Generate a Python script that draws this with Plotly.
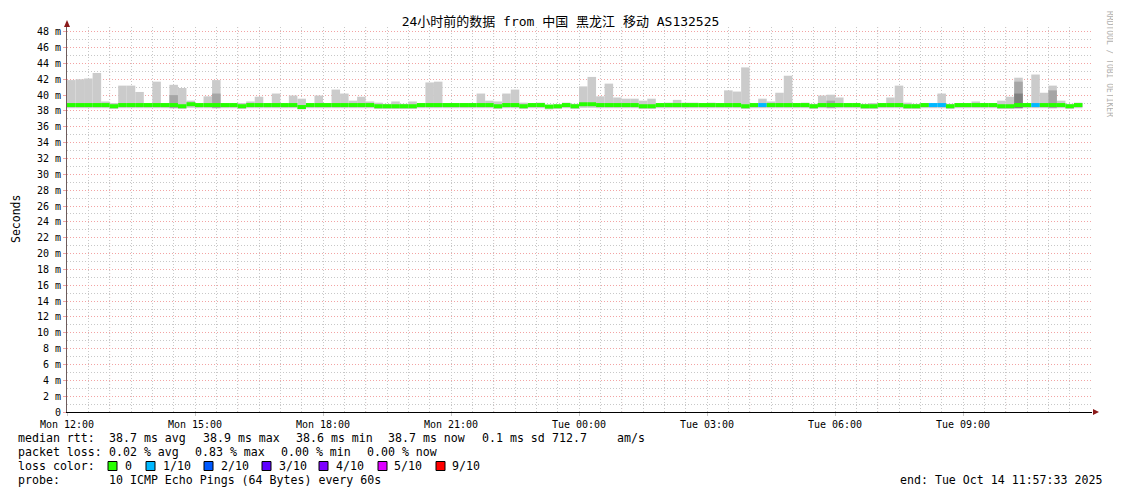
import plotly.graph_objects as go
import pandas as pd

# ---------------- data ----------------
start = pd.Timestamp("2025-10-13 12:00:00")
step_minutes = 12

high = [41.9, 42.0, 42.1, 42.8, 39.2, 39.0, 41.2, 41.2, 40.4, 39.0,
        41.7, 39.0, 41.3, 40.9, 39.3, 38.9, 39.85, 41.9, 38.9, 38.9,
        39.0, 39.2, 39.8, 39.0, 40.2, 38.9, 39.95, 39.55, 38.9, 39.95,
        39.0, 40.7, 40.2, 39.3, 39.8, 39.2, 39.05, 38.9, 39.2, 38.9,
        39.2, 39.0, 41.6, 41.7, 39.0, 39.0, 39.0, 39.0, 40.2, 39.3,
        39.2, 40.2, 40.7, 39.05, 38.9, 39.05, 38.8, 38.8, 39.05, 38.9,
        41.1, 42.3, 39.85, 41.45, 39.7, 39.55, 39.55, 39.3, 39.55, 38.9,
        39.05, 39.4, 39.05, 39.05, 38.9, 39.05, 38.9, 40.6, 40.45, 43.5,
        38.9, 39.55, 39.2, 40.3, 42.45, 38.9, 39.05, 38.9, 39.95, 40.05,
        39.7, 38.9, 38.9, 38.9, 39.0, 38.9, 39.7, 41.2, 39.05, 38.9,
        39.0, 38.9, 40.2, 38.9, 39.0, 38.9, 39.2, 39.0, 39.0, 39.3,
        39.8, 42.2, 39.0, 42.6, 40.3, 41.2, 39.3, 38.9, 39.05]

median = [38.75, 38.75, 38.75, 38.75, 38.75, 38.6, 38.75, 38.75, 38.75, 38.75,
          38.75, 38.75, 38.75, 38.6, 38.85, 38.75, 38.75, 38.75, 38.75, 38.75,
          38.6, 38.75, 38.75, 38.75, 38.75, 38.75, 38.75, 38.5, 38.75, 38.75,
          38.75, 38.75, 38.75, 38.75, 38.75, 38.75, 38.6, 38.6, 38.6, 38.6,
          38.6, 38.75, 38.75, 38.75, 38.75, 38.75, 38.75, 38.75, 38.75, 38.75,
          38.6, 38.75, 38.75, 38.6, 38.75, 38.75, 38.55, 38.6, 38.75, 38.6,
          38.85, 38.85, 38.75, 38.75, 38.75, 38.75, 38.75, 38.6, 38.6, 38.75,
          38.75, 38.75, 38.75, 38.75, 38.75, 38.75, 38.75, 38.75, 38.75, 38.6,
          38.75, 38.75, 38.75, 38.75, 38.75, 38.75, 38.75, 38.6, 38.75, 38.75,
          38.75, 38.75, 38.75, 38.6, 38.6, 38.75, 38.75, 38.75, 38.6, 38.6,
          38.75, 38.75, 38.75, 38.6, 38.75, 38.75, 38.75, 38.75, 38.75, 38.6,
          38.6, 38.75, 38.75, 38.75, 38.75, 38.75, 38.75, 38.6, 38.75]

low = [38.35, 38.35, 38.35, 38.35, 38.35, 38.25, 38.35, 38.35, 38.35, 38.35,
       38.35, 38.35, 38.35, 38.25, 38.4, 38.35, 38.35, 38.35, 38.35, 38.35,
       38.25, 38.35, 38.35, 38.35, 38.35, 38.35, 38.35, 38.2, 38.35, 38.35,
       38.35, 38.35, 38.35, 38.35, 38.35, 38.35, 38.25, 38.25, 38.25, 38.25,
       38.25, 38.35, 38.35, 38.35, 38.35, 38.35, 38.35, 38.35, 38.35, 38.35,
       38.25, 38.35, 38.35, 38.25, 38.35, 38.35, 38.2, 38.25, 38.35, 38.25,
       38.4, 38.4, 38.35, 38.35, 38.35, 38.35, 38.35, 38.25, 38.25, 38.35,
       38.35, 38.35, 38.35, 38.35, 38.35, 38.35, 38.35, 38.35, 38.35, 38.25,
       38.35, 38.35, 38.35, 38.35, 38.35, 38.35, 38.35, 38.25, 38.35, 38.35,
       38.35, 38.35, 38.35, 38.25, 38.25, 38.35, 38.35, 38.35, 38.25, 38.25,
       38.35, 38.35, 38.35, 38.25, 38.35, 38.35, 38.35, 38.35, 38.35, 38.25,
       38.25, 38.35, 38.35, 38.35, 38.35, 38.35, 38.35, 38.25, 38.35]

mid_bins = [12, 17, 89, 111, 115]
mid_vals = [40.0, 40.2, 39.3, 41.7, 40.6]
dark_bins = [111]
dark_vals = [40.2]

loss_bins = [81, 101, 102, 113]
loss_levels = [1, 1, 1, 1]

loss_labels = ["0", "1/10", "2/10", "3/10", "4/10", "5/10", "9/10"]
loss_colors = ["#26ff00", "#00b8ff", "#0059ff", "#5e00ff", "#7e00ff", "#dd00ff", "#ff0000"]

y_ticks = list(range(0, 49, 2))
y_ticktext = ["0" if v == 0 else f"{v} m" for v in y_ticks]

x_tick_hours = [0, 3, 6, 9, 12, 15, 18, 21]
x_ticktext = ["Mon 12:00", "Mon 15:00", "Mon 18:00", "Mon 21:00",
              "Tue 00:00", "Tue 03:00", "Tue 06:00", "Tue 09:00"]

title_text = "24小时前的数据 from 中国 黑龙江 移动 AS132525"
stats_rtt = ["median rtt:", "38.7 ms avg", "38.9 ms max", "38.6 ms min", "38.7 ms now", "0.1 ms sd", "712.7", "am/s"]
stats_loss = ["packet loss:", "0.02 % avg", "0.83 % max", "0.00 % min", "0.00 % now"]
probe_text = ["probe:", "10 ICMP Echo Pings (64 Bytes) every 60s"]
end_text = "end: Tue Oct 14 11:57:33 2025"

# ---------------- geometry helpers ----------------
# the page body has an 8px default margin, so the figure is drawn 8px in
OFF = 8
W, H = 1121 - OFF, 494 - OFF
L, R, T, B = 67 - OFF, 29, 27 - OFF, 82
PW, PH = W - L - R, H - T - B


def px(x):
    """reference screen pixel x -> paper fraction"""
    return (x - OFF - L) / PW


def py(y):
    """reference screen pixel y -> paper fraction"""
    return (H - B - (y - OFF)) / PH


n = len(high)
step = pd.Timedelta(minutes=step_minutes)
fmt = "%Y-%m-%d %H:%M:%S"
centers = [(start + step * i + step / 2).strftime(fmt) for i in range(n)]
width_ms = step_minutes * 60 * 1000

fig = go.Figure()

# light smoke
fig.add_trace(go.Bar(x=centers, y=[h - l for h, l in zip(high, low)], base=low,
                     width=width_ms, marker=dict(color="#cbcbcb", line=dict(width=0)),
                     hoverinfo="skip"))
# medium smoke
fig.add_trace(go.Bar(x=[centers[i] for i in mid_bins],
                     y=[v - low[i] for i, v in zip(mid_bins, mid_vals)],
                     base=[low[i] for i in mid_bins], width=width_ms,
                     marker=dict(color="#a6a6a6", line=dict(width=0)), hoverinfo="skip"))
# dark smoke
fig.add_trace(go.Bar(x=[centers[i] for i in dark_bins],
                     y=[v - low[i] for i, v in zip(dark_bins, dark_vals)],
                     base=[low[i] for i in dark_bins], width=width_ms,
                     marker=dict(color="#808080", line=dict(width=0)), hoverinfo="skip"))

# median line coloured by loss
band = 0.5
med_colors = []
for i in range(n):
    lvl = loss_levels[loss_bins.index(i)] if i in loss_bins else 0
    med_colors.append(loss_colors[lvl])
fig.add_trace(go.Bar(x=centers, y=[band] * n, base=[m - band / 2 for m in median],
                     width=width_ms, marker=dict(color=med_colors, line=dict(width=0)),
                     hoverinfo="skip"))

end_range = start + pd.Timedelta(hours=PW / (1024 / 24))
x_tickvals = [(start + pd.Timedelta(hours=h)).strftime(fmt) for h in x_tick_hours]

grid_dash = "1px,2px"
fig.update_layout(
    template="none",
    width=W, height=H, margin=dict(l=L, r=R, t=T, b=B, autoexpand=False),
    paper_bgcolor="white", plot_bgcolor="white", showlegend=False,
    barmode="overlay",
    font=dict(family="DejaVu Sans Mono", size=10, color="black"),
    title=dict(text=title_text, x=(560.5 - OFF) / W, xref="container", xanchor="center",
               y=1 - (21.7 - OFF) / H, yref="container", yanchor="middle",
               font=dict(family="DejaVu Sans Mono, Noto Sans CJK SC", size=13, color="black")),
    xaxis=dict(type="date", range=[start.strftime(fmt), end_range.strftime(fmt)],
               tickmode="array", tickvals=x_tickvals, ticktext=x_ticktext,
               automargin=False,
               showgrid=True, gridcolor="#c8c8c8", griddash=grid_dash, gridwidth=1,
               minor=dict(dtick=1800 * 1000, tick0=start.strftime(fmt), showgrid=True,
                          gridcolor="#c8c8c8", griddash=grid_dash, gridwidth=1),
               showline=True, linecolor="black", linewidth=1, zeroline=False,
               ticks="outside", ticklen=3, tickcolor="#c8c8c8",
               tickfont=dict(size=10)),
    yaxis=dict(range=[0, 48.6], tickmode="array", tickvals=y_ticks, ticktext=y_ticktext,
               automargin=False,
               showgrid=True, gridcolor="#f3a3a3", griddash=grid_dash, gridwidth=1,
               minor=dict(dtick=1, showgrid=True, gridcolor="#c8c8c8", griddash=grid_dash),
               showline=True, linecolor="#6e5c5c", linewidth=1, zeroline=False,
               ticks="outside", ticklen=3, tickcolor="#f3a3a3",
               tickfont=dict(size=10)),
)

shapes = []
# red major vertical grid lines every 3h, offset 1h from labels
t = start + pd.Timedelta(hours=1)
while t < end_range:
    shapes.append(dict(type="line", xref="x", yref="paper", x0=t.strftime(fmt), x1=t.strftime(fmt),
                       y0=0, y1=1, line=dict(color="#f3a3a3", width=1, dash=grid_dash), layer="below"))
    t += pd.Timedelta(hours=3)

# axis extension + arrows
shapes.append(dict(type="line", xref="paper", yref="paper", x0=px(67), x1=px(67), y0=1, y1=py(24),
                   line=dict(color="#6e5c5c", width=1)))
shapes.append(dict(type="path", xref="paper", yref="paper",
                   path=f"M {px(64)},{py(27)} L {px(70)},{py(27)} L {px(67)},{py(20)} Z",
                   fillcolor="#8b1a1a", line=dict(width=0)))
shapes.append(dict(type="path", xref="paper", yref="paper",
                   path=f"M {px(1093)},{py(409)} L {px(1093)},{py(415)} L {px(1099)},{py(412)} Z",
                   fillcolor="#8b1a1a", line=dict(width=0)))

# loss colour boxes
box_x = [108, 146, 204, 262, 319, 378, 436]
label_x = [123, 161, 219, 277, 334, 392, 450]
row_y = [438, 452, 466, 480]
for bx, col in zip(box_x, loss_colors):
    shapes.append(dict(type="rect", xref="paper", yref="paper",
                       x0=px(bx), x1=px(bx + 9), y0=py(row_y[2] + 4.5), y1=py(row_y[2] - 4.5),
                       fillcolor=col, line=dict(color="black", width=1)))

fig.update_layout(shapes=shapes)

ann = []
leg_font = dict(family="DejaVu Sans Mono", size=11.6, color="black")


def add_text(x, y, text, **kw):
    d = dict(xref="paper", yref="paper", x=px(x), y=py(y), text=text, showarrow=False,
             xanchor="left", yanchor="middle", font=leg_font)
    d.update(kw)
    ann.append(d)


rtt_x = [16, 107, 200.7, 293.6, 386.4, 479.6, 550, 614.5]
for x, s in zip(rtt_x, stats_rtt):
    add_text(x, row_y[0], s)
loss_x = [16, 107, 192.9, 279.3, 365]
for x, s in zip(loss_x, stats_loss):
    add_text(x, row_y[1], s)
add_text(16, row_y[2], "loss color:")
for x, s in zip(label_x, loss_labels):
    add_text(x, row_y[2], s)
add_text(16, row_y[3], probe_text[0])
add_text(107, row_y[3], probe_text[1])
add_text(1104, row_y[3], end_text, xanchor="right")

# y-axis title
ann.append(dict(xref="paper", yref="paper", x=px(16), y=py(219), text="Seconds", showarrow=False,
                textangle=-90, xanchor="center", yanchor="middle",
                font=dict(family="DejaVu Sans Mono", size=11.5, color="black")))
# watermark
ann.append(dict(xref="paper", yref="paper", x=px(1110), y=py(64), text="RRDTOOL / TOBI OETIKER",
                showarrow=False, textangle=90, xanchor="center", yanchor="middle",
                font=dict(family="DejaVu Sans Mono", size=8, color="#b0b0b0")))

fig.update_layout(annotations=ann)

fig.write_html("out.html")
